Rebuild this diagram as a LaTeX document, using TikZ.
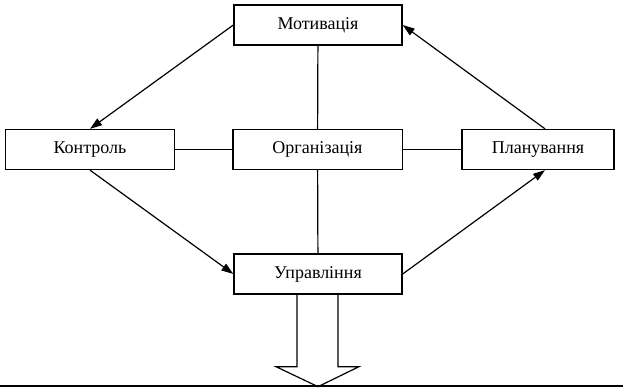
\documentclass[tikz,border=0pt]{standalone}
\usepackage{fontspec}
\setmainfont{Liberation Serif}
\usetikzlibrary{calc,arrows.meta,positioning}
\tikzset{
  blok/.style={draw, line width=1pt, minimum height=30pt, inner sep=0pt, font=\fontsize{13.5}{15}\selectfont},
  zv/.style={line width=0.9pt},
  strilka/.style={zv, -{Triangle[length=9pt,width=6pt]}}
}
\begin{document}
\begin{tikzpicture}[x=0.75pt,y=-0.75pt]
\useasboundingbox (0,0) rectangle (623,388);
\node[blok, minimum width=126pt] (mot) at (318,25) {Мотивація};
\node[blok, minimum width=127pt] (kon) at (90,149.5) {Контроль};
\node[blok, minimum width=127pt] (org) at (317.5,149.5) {Організація};
\node[blok, minimum width=114pt] (pla) at (538,149.5) {Планування};
\node[blok, minimum width=126pt] (upr) at (318,274) {Управління};
% sides
\draw[zv] (mot) -- (org);
\draw[zv] (org) -- (upr);
\draw[zv] (kon) -- (org);
\draw[zv] (org) -- (pla);
% cycle
\draw[strilka] (mot.west) -- (kon.north);
\draw[strilka] (kon.south) -- (upr.west);
\draw[strilka] (upr.east) -- ([xshift=5.25pt]pla.south);
\draw[strilka] ([xshift=5.25pt]pla.north) -- (mot.east);
% output
\coordinate (vyh) at ($(upr.south)+(0,92)$);
\draw[zv, line join=miter] ($(upr.south)+(-21,0)$) -- ++(0,72) -- ++(-21,0) -- (vyh)
  -- ($(upr.south)+(41,72)$) -- ++(-21,0) -- ++(0,-72);
\draw[zv] (0,386) -- (623,386);
\end{tikzpicture}
\end{document}
